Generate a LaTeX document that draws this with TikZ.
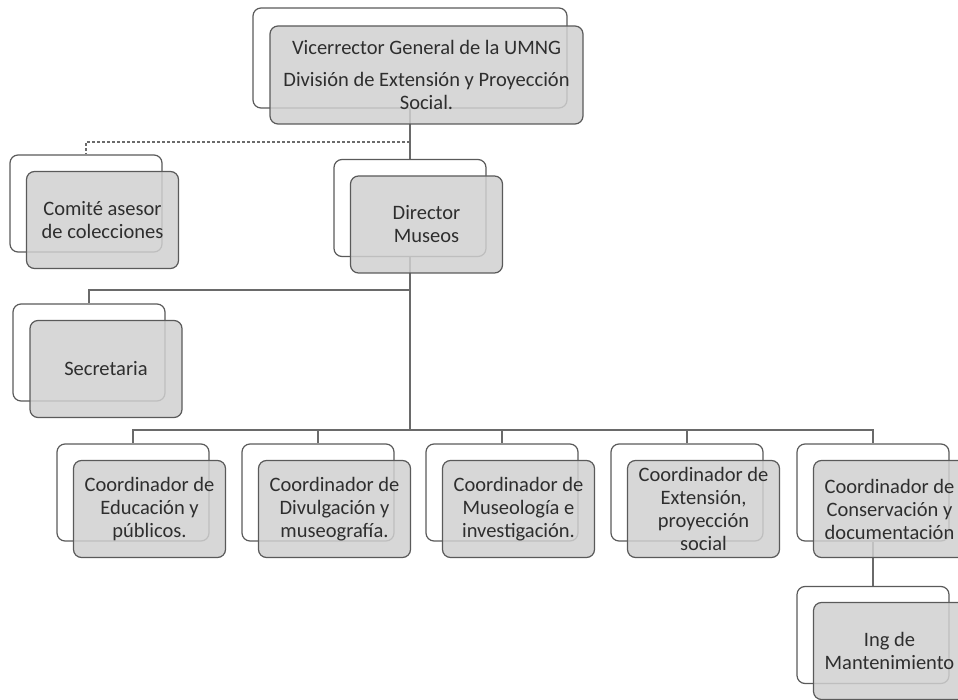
\documentclass[tikz,border=0pt]{standalone}
\usepackage{fontspec}
\setmainfont{Carlito}
\usetikzlibrary{backgrounds}
\definecolor{linec}{HTML}{6A6A6A}
\definecolor{boxline}{HTML}{5A5A5A}
\definecolor{frontfill}{HTML}{D0D0D0}
\definecolor{textc}{HTML}{2E2E2E}
\tikzset{
  backbox/.style={draw=boxline, fill=white, rounded corners=8pt, minimum width=152pt, minimum height=97pt, line width=1.2pt, inner sep=0pt},
  frontbox/.style={draw=boxline, fill=frontfill, fill opacity=0.85, text opacity=1, rounded corners=8pt, minimum width=152pt, minimum height=97pt, line width=1.2pt, align=center, text=textc, inner sep=1pt, font=\fontsize{20.5}{23}\selectfont},
  conn/.style={draw=linec, line width=1.4pt},
  dashconn/.style={draw=linec, line width=1.2pt, dash pattern=on 3pt off 2pt},
}
\begin{document}
\begin{tikzpicture}[x=1pt,y=-1pt]
\useasboundingbox (0,0) rectangle (958,700);
% top
\node[backbox, minimum width=314pt, minimum height=100pt] (topb) at (410,58) {};
\node[frontbox, minimum width=313pt, minimum height=98pt] (topf) at (426.5,75) {Vicerrector General de la UMNG\\[9pt]\fontsize{20.5}{20}\selectfont División de Extensión y Proyección\\Social.};
% comite
\node[backbox] (comb) at (86,203.5) {};
\node[frontbox] (comf) at (102.5,220) {Comité asesor\\de colecciones};
% director
\node[backbox] (dirb) at (410,208) {};
\node[frontbox] (dirf) at (426.5,224.5) {Director\\Museos};
% secretaria
\node[backbox] (secb) at (89,352.5) {};
\node[frontbox] (secf) at (106,369) {Secretaria};
% bottom row
\node[backbox] (c1b) at (133,492.5) {};
\node[frontbox] (c1f) at (149.5,509) {Coordinador de\\Educación y\\públicos.};
\node[backbox] (c2b) at (318,492.5) {};
\node[frontbox] (c2f) at (334.5,509) {Coordinador de\\Divulgación y\\museografía.};
\node[backbox] (c3b) at (502,492.5) {};
\node[frontbox] (c3f) at (518.5,509) {Coordinador de\\Museología e\\investigación.};
\node[backbox] (c4b) at (687,492.5) {};
\node[frontbox] (c4f) at (703.5,509) {Coordinador de\\Extensión,\\proyección\\social};
\node[backbox] (c5b) at (873,492.5) {};
\node[frontbox] (c5f) at (889.5,509) {Coordinador de\\Conservación y\\documentación};
% ing
\node[backbox] (ingb) at (873,635) {};
\node[frontbox] (ingf) at (889.5,651) {Ing de\\Mantenimiento};
\begin{pgfonlayer}{background}
\coordinate (j1) at (410,142);
\coordinate (j2) at (410,290);
\coordinate (bar) at (410,430);
\draw[conn] (topb.south) -- (dirb.north);
\draw[dashconn] (j1) -| (comb.north);
\draw[conn] (dirb.south) -- (bar);
\draw[conn] (j2) -| (secb.north);
\foreach \n in {c1b,c2b,c3b,c4b,c5b} \draw[conn] (bar) -| (\n.north);
\draw[conn] (c5b.south) -- (ingb.north);
\end{pgfonlayer}
\end{tikzpicture}
\end{document}
